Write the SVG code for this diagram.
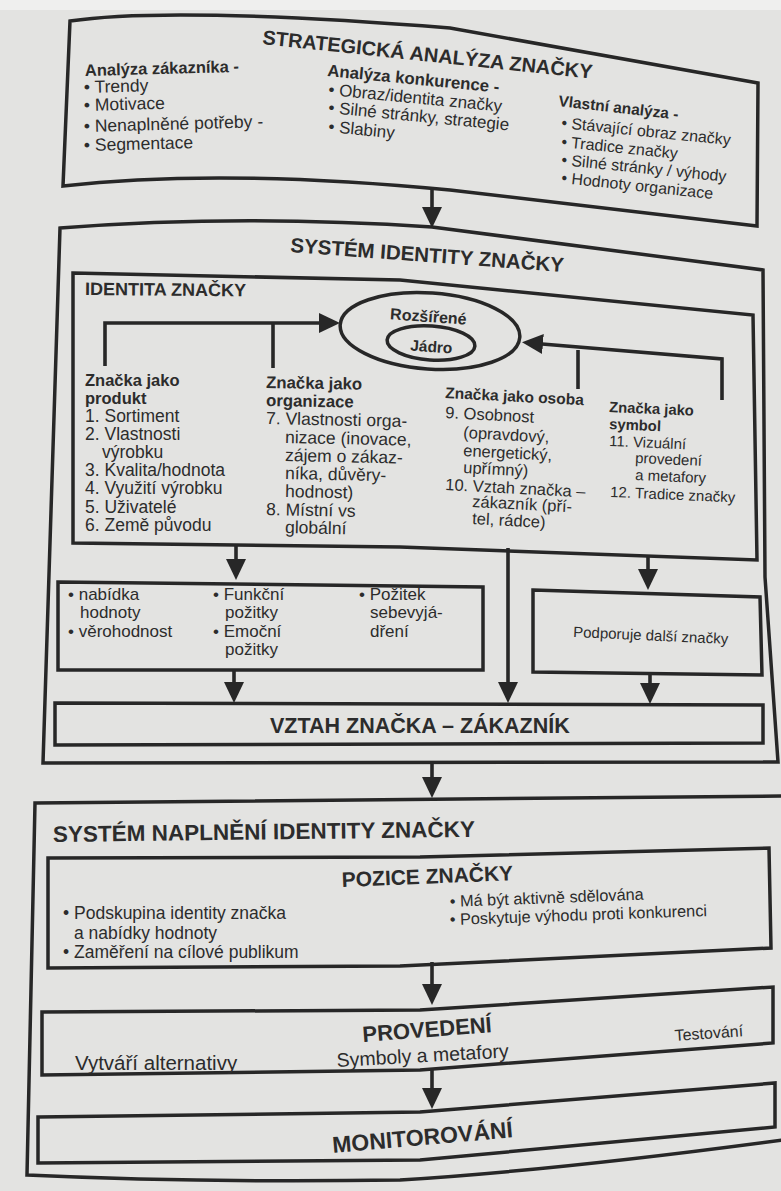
<svg xmlns="http://www.w3.org/2000/svg" width="781" height="1191" viewBox="0 0 781 1191">
<style>
.box{fill:none;stroke:#272727;stroke-width:3.5;stroke-linejoin:miter}
.ln{fill:none;stroke:#272727;stroke-width:3.6}
.t{font-family:"Liberation Sans",Arial,sans-serif;fill:#2c2c2c}
.b{font-weight:bold}
.ar{marker-end:url(#ah)}
</style>
<defs>
<marker id="ah" markerUnits="userSpaceOnUse" markerWidth="21" markerHeight="20" refX="13" refY="10" orient="auto">
<path d="M0,0 L21,10 L0,20 Z" fill="#272727"/>
</marker>
</defs>
<rect x="0" y="0" width="781" height="1191" fill="#e3e3e1"/>
<rect x="0" y="0" width="781" height="10" fill="#efefee"/>

<g id="strategicka">
<path class="box" d="M70,21 Q170,6 450,28 L758,83 L757,226 L450,190 Q220,168 63,186 Z"/>
<text class="t b" x="262" y="44" font-size="20" transform="rotate(6 262 44)">STRATEGICKÁ ANALÝZA ZNAČKY</text>
<text class="t b" x="85" y="76" font-size="16.5" transform="rotate(-1.5 85 76)">Analýza zákazníka -</text>
<text class="t" x="84" y="93" font-size="17.5" transform="rotate(-1.5 84 93)">• Trendy</text>
<text class="t" x="84" y="111" font-size="17.5" transform="rotate(-1.5 84 111)">• Motivace</text>
<text class="t" x="84" y="132" font-size="17.5" transform="rotate(-1.5 84 132)">• Nenaplněné potřeby -</text>
<text class="t" x="84" y="151" font-size="17.5" transform="rotate(-1.5 84 151)">• Segmentace</text>
<text class="t b" x="327" y="76" font-size="16.8" transform="rotate(5.5 327 76)">Analýza konkurence -</text>
<text class="t" x="328" y="95" font-size="17" transform="rotate(5.5 328 95)">• Obraz/identita značky</text>
<text class="t" x="328" y="113" font-size="17" transform="rotate(5.5 328 113)">• Silné stránky, strategie</text>
<text class="t" x="328" y="132" font-size="17" transform="rotate(5.5 328 132)">• Slabiny</text>
<text class="t b" x="558" y="106" font-size="15.5" transform="rotate(6.5 558 106)">Vlastní analýza -</text>
<text class="t" x="561" y="128" font-size="16" transform="rotate(5.8 561 128)">• Stávající obraz značky</text>
<text class="t" x="561" y="147" font-size="16" transform="rotate(5.8 561 147)">• Tradice značky</text>
<text class="t" x="561" y="165" font-size="16" transform="rotate(5.8 561 165)">• Silné stránky / výhody</text>
<text class="t" x="561" y="183" font-size="16" transform="rotate(6 561 183)">• Hodnoty organizace</text>
</g>

<g id="system-identity">
<path class="box" d="M60,228 Q240,214 432,227 L763,270 L765,577 L778,762 L43,763 Z"/>
<text class="t b" x="290" y="252" font-size="20.5" transform="rotate(4.2 290 252)">SYSTÉM IDENTITY ZNAČKY</text>
</g>

<g id="identita">
<path class="box" d="M73,273 L400,280 L753,315 L757,560 L400,547 L73,543 Z"/>
<text class="t b" x="85" y="295" font-size="18" transform="rotate(0.5 85 295)">IDENTITA ZNAČKY</text>
</g>

<g id="jadro">
<ellipse class="box" cx="430" cy="331" rx="90" ry="38" transform="rotate(4 430 331)"/>
<ellipse class="box" cx="431" cy="343" rx="44" ry="17" transform="rotate(4 431 343)"/>
<text class="t b" x="428" y="322" font-size="16" text-anchor="middle" transform="rotate(4 428 322)">Rozšířené</text>
<text class="t b" x="431" y="352" font-size="15.5" text-anchor="middle" transform="rotate(4 431 352)">Jádro</text>
</g>

<g id="produkt">
<text class="t b" x="85" y="386" font-size="16.5">Značka jako</text>
<text class="t b" x="85" y="404" font-size="16.5">produkt</text>
<text class="t" x="85" y="422" font-size="17.5">1. Sortiment</text>
<text class="t" x="85" y="440" font-size="17.5">2. Vlastnosti</text>
<text class="t" x="102" y="458" font-size="17.5">výrobku</text>
<text class="t" x="85" y="476" font-size="17.5">3. Kvalita/hodnota</text>
<text class="t" x="85" y="494" font-size="17.5">4. Využití výrobku</text>
<text class="t" x="85" y="513" font-size="17.5">5. Uživatelé</text>
<text class="t" x="85" y="531" font-size="17.5">6. Země původu</text>
</g>

<g id="organizace">
<text class="t b" x="266" y="388" font-size="16.8" transform="rotate(1 266 388)">Značka jako</text>
<text class="t b" x="266" y="406" font-size="16.8" transform="rotate(1 266 406)">organizace</text>
<text class="t" x="266" y="424" font-size="17.5" transform="rotate(1.2 266 424)">7. Vlastnosti orga-</text>
<text class="t" x="285" y="443" font-size="17.5" transform="rotate(1.2 285 443)">nizace (inovace,</text>
<text class="t" x="285" y="461" font-size="17.5" transform="rotate(1.2 285 461)">zájem o zákaz-</text>
<text class="t" x="285" y="479" font-size="17.5" transform="rotate(1.2 285 479)">níka, důvěry-</text>
<text class="t" x="285" y="497" font-size="17.5" transform="rotate(1.2 285 497)">hodnost)</text>
<text class="t" x="266" y="515" font-size="17.5" transform="rotate(1.2 266 515)">8. Místní vs</text>
<text class="t" x="285" y="533" font-size="17.5" transform="rotate(1.2 285 533)">globální</text>
</g>

<g id="osoba">
<text class="t b" x="445" y="398" font-size="15.5" transform="rotate(3 445 398)">Značka jako osoba</text>
<text class="t" x="445" y="418" font-size="16.5" transform="rotate(3 445 418)">9. Osobnost</text>
<text class="t" x="463" y="438" font-size="16.5" transform="rotate(3 463 438)">(opravdový,</text>
<text class="t" x="463" y="456" font-size="16.5" transform="rotate(3 463 456)">energetický,</text>
<text class="t" x="463" y="473" font-size="16.5" transform="rotate(3 463 473)">upřímný)</text>
<text class="t" x="445" y="490" font-size="16.5" transform="rotate(3 445 490)">10. Vztah značka –</text>
<text class="t" x="472" y="507" font-size="16.5" transform="rotate(3 472 507)">zákazník (pří-</text>
<text class="t" x="472" y="524" font-size="16.5" transform="rotate(3 472 524)">tel, rádce)</text>
</g>

<g id="symbol">
<text class="t b" x="609" y="412" font-size="14.8" transform="rotate(2.5 609 412)">Značka jako</text>
<text class="t b" x="609" y="429" font-size="14.8" transform="rotate(2.5 609 429)">symbol</text>
<text class="t" x="609" y="446" font-size="15" transform="rotate(2.5 609 446)">11. Vizuální</text>
<text class="t" x="635" y="463" font-size="15" transform="rotate(2.5 635 463)">provedení</text>
<text class="t" x="635" y="480" font-size="15" transform="rotate(2.5 635 480)">a metafory</text>
<text class="t" x="610" y="497" font-size="15" transform="rotate(2.5 610 497)">12. Tradice značky</text>
</g>

<g id="pozitky">
<path class="box" d="M58,582 L483,587 L483,670 L58,670 Z"/>
<text class="t" x="68" y="600" font-size="17">• nabídka</text>
<text class="t" x="80" y="618" font-size="17">hodnoty</text>
<text class="t" x="68" y="637" font-size="17">• věrohodnost</text>
<text class="t" x="213" y="600" font-size="17">• Funkční</text>
<text class="t" x="225" y="618" font-size="17">požitky</text>
<text class="t" x="213" y="637" font-size="17">• Emoční</text>
<text class="t" x="225" y="655" font-size="17">požitky</text>
<text class="t" x="359" y="600" font-size="17">• Požitek</text>
<text class="t" x="370" y="618" font-size="17">sebevyjá-</text>
<text class="t" x="370" y="637" font-size="17">dření</text>
</g>

<g id="podporuje">
<path class="box" d="M533,590 L760,597 L762,675 L533,672 Z"/>
<text class="t" x="573" y="637" font-size="15" transform="rotate(2.6 573 637)">Podporuje další značky</text>
</g>

<g id="vztah">
<path class="box" d="M55,703 L763,705 L763,743 L55,745 Z"/>
<text class="t b" x="270" y="733" font-size="21.5">VZTAH ZNAČKA – ZÁKAZNÍK</text>
</g>

<g id="system-naplneni">
<path class="box" d="M35,803 L790,796 L790,1139 Q560,1170 400,1180 Q200,1183 27,1175 Z"/>
<text class="t b" x="53" y="842" font-size="22.5" transform="rotate(-0.7 53 842)">SYSTÉM NAPLNĚNÍ IDENTITY ZNAČKY</text>
</g>

<g id="pozice">
<path class="box" d="M48,858 L420,857 L769,848 L771,948 L400,966 L48,968 Z"/>
<text class="t b" x="342" y="887" font-size="21" transform="rotate(-2.3 342 887)">POZICE ZNAČKY</text>
<text class="t" x="63" y="919" font-size="17.5">• Podskupina identity značka</text>
<text class="t" x="74" y="939" font-size="17.5">a nabídky hodnoty</text>
<text class="t" x="63" y="958" font-size="17.5">• Zaměření na cílové publikum</text>
<text class="t" x="450" y="907" font-size="16.3" transform="rotate(-2.2 450 907)">• Má být aktivně sdělována</text>
<text class="t" x="450" y="925" font-size="16.3" transform="rotate(-2 450 925)">• Poskytuje výhodu proti konkurenci</text>
</g>

<g id="provedeni">
<path class="box" d="M42,1012 L420,1010 L773,987 L773,1043 L420,1070 L42,1075 Z"/>
<text class="t b" x="363" y="1042" font-size="22" transform="rotate(-4.4 363 1042)">PROVEDENÍ</text>
<text class="t" x="337" y="1067" font-size="19.5" transform="rotate(-3.2 337 1067)">Symboly a metafory</text>
<text class="t" x="75" y="1070" font-size="20.5">Vytváří alternativy</text>
<text class="t" x="675" y="1041" font-size="16" transform="rotate(-4 675 1041)">Testování</text>
</g>

<g id="monitorovani">
<path class="box" d="M38,1117 L420,1112 L775,1083 L775,1127 L420,1160 L38,1163 Z"/>
<text class="t b" x="333" y="1153" font-size="23" transform="rotate(-5 333 1153)">MONITOROVÁNÍ</text>
</g>

<g id="connectors">
<line class="ln ar" x1="432" y1="190" x2="432" y2="220"/>
<polyline class="ln ar" points="105,366 105,323 332,323"/>
<line class="ln" x1="273" y1="368" x2="273" y2="323"/>
<polyline class="ln ar" points="722,400 722,359 530,343"/>
<line class="ln" x1="578" y1="389" x2="578" y2="350"/>
<line class="ln ar" x1="236" y1="545" x2="236" y2="572"/>
<line class="ln ar" x1="508" y1="548" x2="508" y2="695"/>
<line class="ln ar" x1="648" y1="557" x2="648" y2="582"/>
<line class="ln ar" x1="234" y1="670" x2="234" y2="695"/>
<line class="ln ar" x1="650" y1="675" x2="650" y2="696"/>
<line class="ln ar" x1="432" y1="763" x2="432" y2="790"/>
<line class="ln ar" x1="432" y1="962" x2="432" y2="997"/>
<line class="ln ar" x1="432" y1="1069" x2="432" y2="1101"/>
</g>
</svg>
